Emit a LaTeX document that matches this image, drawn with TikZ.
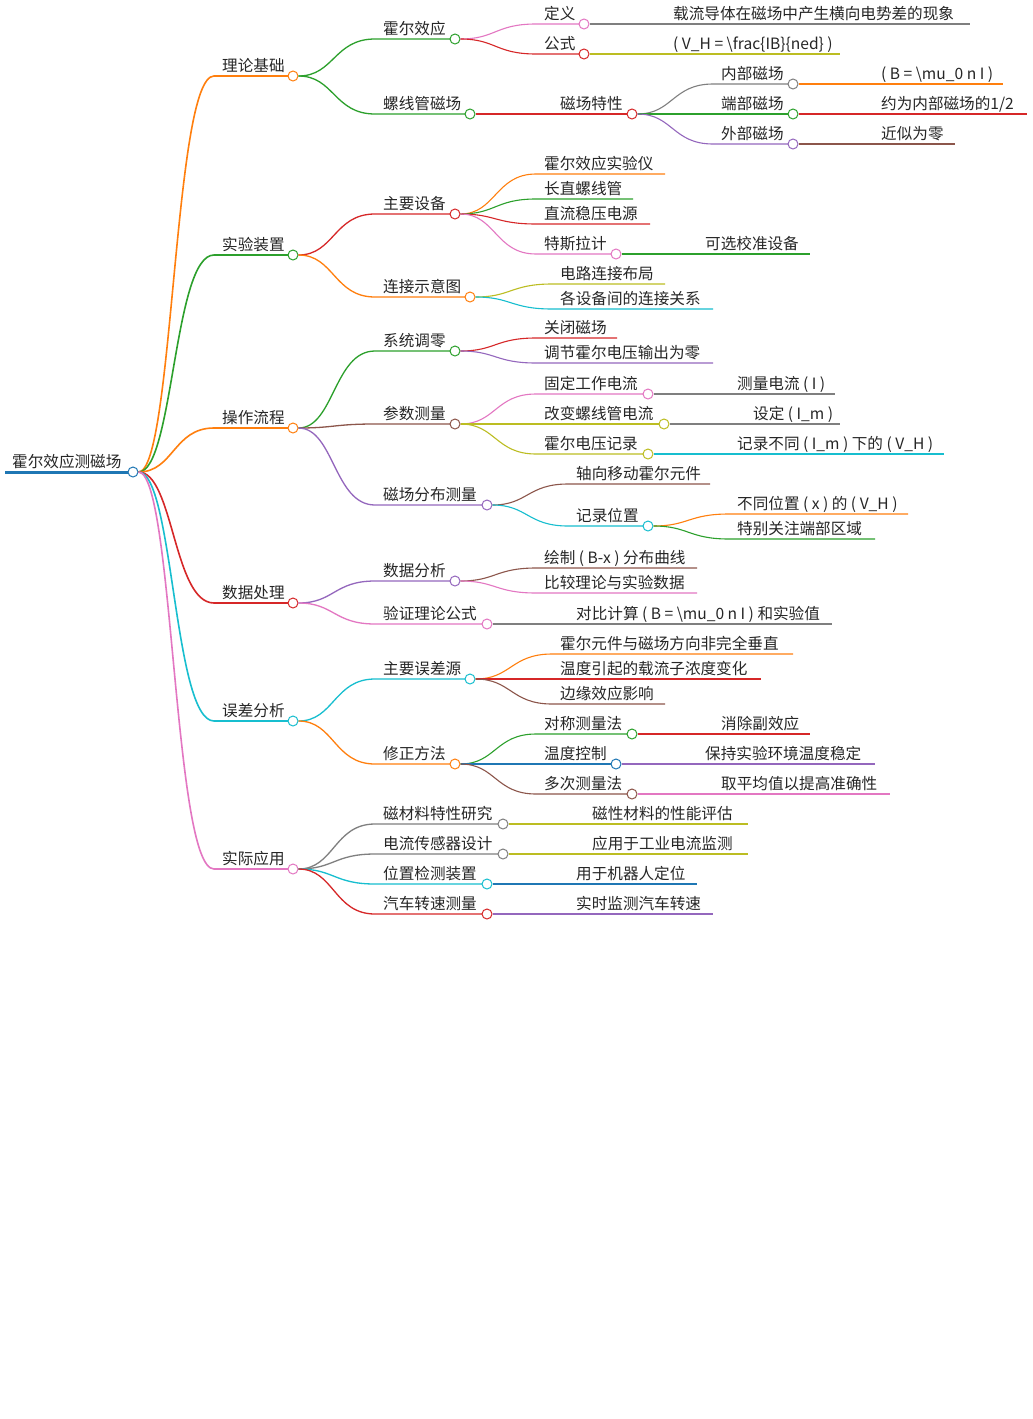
\documentclass[tikz,border=0pt]{standalone}
\usepackage{fontspec}
\setmainfont{Noto Sans CJK SC}
\usetikzlibrary{calc}
\definecolor{cB}{HTML}{1F77B4}\definecolor{cO}{HTML}{FF7F0E}\definecolor{cG}{HTML}{2CA02C}
\definecolor{cR}{HTML}{D62728}\definecolor{cP}{HTML}{9467BD}\definecolor{cN}{HTML}{8C564B}
\definecolor{cK}{HTML}{E377C2}\definecolor{cY}{HTML}{7F7F7F}\definecolor{cL}{HTML}{BCBD22}
\definecolor{cC}{HTML}{17BECF}
\tikzset{lbl/.style={anchor=base west,inner sep=0pt,font=\fontsize{15.6}{17}\selectfont,text=black!85},
 dot/.style={circle,draw,fill=white,inner sep=0pt,minimum size=10pt,line width=1pt},
 edge/.style={line width=1.1pt}}
% name parent textx y endx color text width
\newcommand\nd[8]{%
 \coordinate (#1s) at ({#3-8},#4);
 \draw[edge,#6,line width=#8] let \p1=(#2), \p2=(#1s) in (#2) .. controls ({0.5*\x1+0.5*\x2},\y1) and ({0.5*\x1+0.5*\x2},\y2) .. (#1s) -- (#5,#4);
 \node[lbl] (#1t) at (#3,{#4-4.5}) {#7};
 \node[dot,draw=#6] (#1) at (#5,#4) {};}
\newcommand\lf[7]{%
 \coordinate (#1s) at ({#3-8},#4);
 \draw[edge,#6] let \p1=(#2), \p2=(#1s) in (#2) .. controls ({0.5*\x1+0.5*\x2},\y1) and ({0.5*\x1+0.5*\x2},\y2) .. (#1s) -- (#5,#4);
 \node[lbl] (#1t) at (#3,{#4-4.5}) {#7};}
\begin{document}
\begin{tikzpicture}[x=1pt,y=-1pt]
\useasboundingbox[fill=white] (0,0) rectangle (1033,1419);
\draw[cB,line width=3pt] (5,472) -- (133,472);
\node[lbl] (roott) at (12,467.5) {霍尔效应测磁场};
\node[dot,draw=cB] (root) at (133,472) {};
% level 1
\nd{a}{root}{222}{76}{293}{cO}{理论基础}{1.6pt}
\nd{b}{root}{222}{255}{293}{cG}{实验装置}{1.6pt}
\nd{c}{root}{222}{428}{293}{cO}{操作流程}{1.6pt}
\nd{d}{root}{222}{603}{293}{cR}{数据处理}{1.6pt}
\nd{e}{root}{222}{721}{293}{cC}{误差分析}{1.6pt}
\nd{f}{root}{222}{869}{293}{cK}{实际应用}{1.6pt}
% 理论基础
\nd{a1}{a}{383}{39}{455}{cG}{霍尔效应}{1.3pt}
\nd{a2}{a}{383}{114}{470}{cG}{螺线管磁场}{1.3pt}
\nd{a11}{a1}{544}{24}{584}{cK}{定义}{1.1pt}
\lf{a111}{a11}{673}{24}{970}{cY}{载流导体在磁场中产生横向电势差的现象}
\nd{a12}{a1}{544}{54}{584}{cR}{公式}{1.1pt}
\lf{a121}{a12}{673}{54}{840}{cL}{( V\_H = \textbackslash frac\{IB\}\{ned\} )}
\nd{a21}{a2}{560}{114}{632}{cR}{磁场特性}{1.1pt}
\nd{a211}{a21}{721}{84}{793}{cY}{内部磁场}{1.1pt}
\lf{a2111}{a211}{881}{84}{1003}{cO}{( B = \textbackslash mu\_0 n I )}
\nd{a212}{a21}{721}{114}{793}{cG}{端部磁场}{1.1pt}
\lf{a2121}{a212}{881}{114}{1027}{cR}{约为内部磁场的1/2}
\nd{a213}{a21}{721}{144}{793}{cP}{外部磁场}{1.1pt}
\lf{a2131}{a213}{881}{144}{955}{cN}{近似为零}
% 实验装置
\nd{b1}{b}{383}{214}{455}{cR}{主要设备}{1.3pt}
\lf{b11}{b1}{544}{174}{665}{cO}{霍尔效应实验仪}
\lf{b12}{b1}{544}{199}{633}{cG}{长直螺线管}
\lf{b13}{b1}{544}{224}{650}{cR}{直流稳压电源}
\nd{b14}{b1}{544}{254}{616}{cK}{特斯拉计}{1.1pt}
\lf{b141}{b14}{705}{254}{810}{cG}{可选校准设备}
\nd{b2}{b}{383}{297}{470}{cO}{连接示意图}{1.3pt}
\lf{b21}{b2}{560}{284}{665}{cL}{电路连接布局}
\lf{b22}{b2}{560}{309}{713}{cC}{各设备间的连接关系}
% 操作流程
\nd{c1}{c}{383}{351}{455}{cG}{系统调零}{1.3pt}
\lf{c11}{c1}{544}{338}{617}{cR}{关闭磁场}
\lf{c12}{c1}{544}{363}{713}{cP}{调节霍尔电压输出为零}
\nd{c2}{c}{383}{424}{455}{cN}{参数测量}{1.3pt}
\nd{c21}{c2}{544}{394}{648}{cK}{固定工作电流}{1.1pt}
\lf{c211}{c21}{737}{394}{835}{cY}{测量电流 ( I )}
\nd{c22}{c2}{544}{424}{664}{cL}{改变螺线管电流}{1.1pt}
\lf{c221}{c22}{753}{424}{840}{cY}{设定 ( I\_m )}
\nd{c23}{c2}{544}{454}{648}{cL}{霍尔电压记录}{1.1pt}
\lf{c231}{c23}{737}{454}{944}{cC}{记录不同 ( I\_m ) 下的 ( V\_H )}
\nd{c3}{c}{383}{505}{487}{cP}{磁场分布测量}{1.3pt}
\lf{c31}{c3}{576}{484}{710}{cN}{轴向移动霍尔元件}
\nd{c32}{c3}{576}{526}{648}{cC}{记录位置}{1.1pt}
\lf{c321}{c32}{737}{514}{908}{cO}{不同位置 ( x ) 的 ( V\_H )}
\lf{c322}{c32}{737}{539}{875}{cG}{特别关注端部区域}
% 数据处理
\nd{d1}{d}{383}{581}{455}{cP}{数据分析}{1.3pt}
\lf{d11}{d1}{544}{568}{697}{cN}{绘制 ( B-x ) 分布曲线}
\lf{d12}{d1}{544}{593}{697}{cK}{比较理论与实验数据}
\nd{d2}{d}{383}{624}{487}{cK}{验证理论公式}{1.3pt}
\lf{d21}{d2}{576}{624}{832}{cY}{对比计算 ( B = \textbackslash mu\_0 n I ) 和实验值}
% 误差分析
\nd{e1}{e}{383}{679}{470}{cC}{主要误差源}{1.3pt}
\lf{e11}{e1}{560}{654}{793}{cO}{霍尔元件与磁场方向非完全垂直}
\lf{e12}{e1}{560}{679}{761}{cR}{温度引起的载流子浓度变化}
\lf{e13}{e1}{560}{704}{665}{cN}{边缘效应影响}
\nd{e2}{e}{383}{764}{455}{cO}{修正方法}{1.3pt}
\nd{e21}{e2}{544}{734}{632}{cG}{对称测量法}{1.1pt}
\lf{e211}{e21}{721}{734}{810}{cR}{消除副效应}
\nd{e22}{e2}{544}{764}{616}{cB}{温度控制}{1.1pt}
\lf{e221}{e22}{705}{764}{875}{cP}{保持实验环境温度稳定}
\nd{e23}{e2}{544}{794}{632}{cN}{多次测量法}{1.1pt}
\lf{e231}{e23}{721}{794}{890}{cK}{取平均值以提高准确性}
% 实际应用
\nd{f1}{f}{383}{824}{503}{cY}{磁材料特性研究}{1.3pt}
\lf{f11}{f1}{592}{824}{748}{cL}{磁性材料的性能评估}
\nd{f2}{f}{383}{854}{503}{cY}{电流传感器设计}{1.3pt}
\lf{f21}{f2}{592}{854}{748}{cL}{应用于工业电流监测}
\nd{f3}{f}{383}{884}{487}{cC}{位置检测装置}{1.3pt}
\lf{f31}{f3}{576}{884}{697}{cB}{用于机器人定位}
\nd{f4}{f}{383}{914}{487}{cR}{汽车转速测量}{1.3pt}
\lf{f41}{f4}{576}{914}{713}{cP}{实时监测汽车转速}
\end{tikzpicture}
\end{document}
